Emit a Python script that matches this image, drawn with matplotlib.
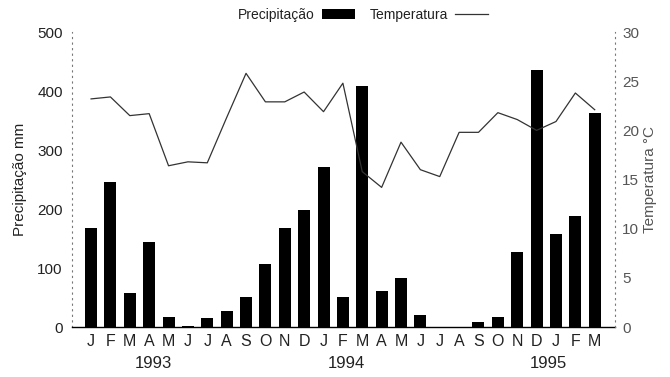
import matplotlib
matplotlib.use("Agg")
import matplotlib.pyplot as plt
from matplotlib.lines import Line2D
from matplotlib.patches import Patch

plt.rcParams['font.family'] = ['Liberation Sans', 'DejaVu Sans']

months = ["J", "F", "M", "A", "M", "J", "J", "A", "S", "O", "N", "D",
          "J", "F", "M", "A", "M", "J", "J", "A", "S", "O", "N", "D",
          "J", "F", "M"]
precip = [168, 245, 57, 144, 17, 2, 15, 27, 51, 107, 168, 198,
          271, 51, 408, 61, 83, 20, 0, 0, 8, 17, 127, 436,
          158, 188, 363]
temp = [23.2, 23.4, 21.5, 21.7, 16.4, 16.8, 16.7, 21.3, 25.8, 22.9, 22.9, 23.9,
        21.9, 24.8, 15.8, 14.2, 18.8, 16.0, 15.3, 19.8, 19.8, 21.8, 21.1, 20.0,
        20.9, 23.8, 22.1]
years = ["1993", "1994", "1995"]
year_pos = [3.2, 13.2, 23.6]

txt = "#222222"
fig = plt.figure(figsize=(6.70, 3.77), dpi=100)
ax = fig.add_axes([0.107, 0.1326, 0.811, 0.7824])
x = list(range(len(months)))
ax.bar(x, precip, width=0.62, color="black", zorder=2)
ax.set_ylim(0, 500)
ax.set_xlim(-1, 27.05)
ax.set_yticks([0, 100, 200, 300, 400, 500])
ax.tick_params(axis='y', length=0, labelsize=11, colors=txt, pad=6.5)
ax.set_xticks(x)
ax.set_xticklabels(months)
ax.tick_params(axis='x', length=0, labelsize=11.5, colors=txt, pad=5)
ax.set_ylabel("Precipitação mm", fontsize=11, color=txt, labelpad=7)
ax.spines["top"].set_visible(False)
ax.spines["left"].set_linestyle((0, (1, 4)))
ax.spines["left"].set_color("#777777")
ax.spines["left"].set_linewidth(0.8)
ax.spines["bottom"].set_color("black")
ax.spines["bottom"].set_linewidth(1.0)
ax.spines["right"].set_visible(False)

ax2 = ax.twinx()
ax2.plot(x, temp, color="#333333", linewidth=0.9, zorder=3)
ax2.set_ylim(0, 30)
ax2.set_yticks([0, 5, 10, 15, 20, 25, 30])
ax2.tick_params(axis='y', length=0, labelsize=11, colors="#555555", pad=5)
ax2.set_ylabel("Temperatura °C", fontsize=11, color="#555555", labelpad=3)
for s in ["top", "left", "bottom"]:
    ax2.spines[s].set_visible(False)
ax2.spines["right"].set_linestyle((0, (1, 4)))
ax2.spines["right"].set_color("#777777")
ax2.spines["right"].set_linewidth(0.8)

for yr, p in zip(years, year_pos):
    ax.text(p, -0.125, yr, transform=ax.get_xaxis_transform(), ha="center",
            va="center", fontsize=12, color=txt)

handles = [Patch(facecolor="black"), Line2D([0], [0], color="#333333", lw=0.9)]
fig.legend(handles, ["Precipitação", "Temperatura"], loc="center",
           bbox_to_anchor=(0.542, 0.96), ncol=2, frameon=False, fontsize=10,
           markerfirst=False, handlelength=2.4, handletextpad=0.5,
           columnspacing=1.0, labelcolor=txt)

fig.savefig("out.png", dpi=100)
